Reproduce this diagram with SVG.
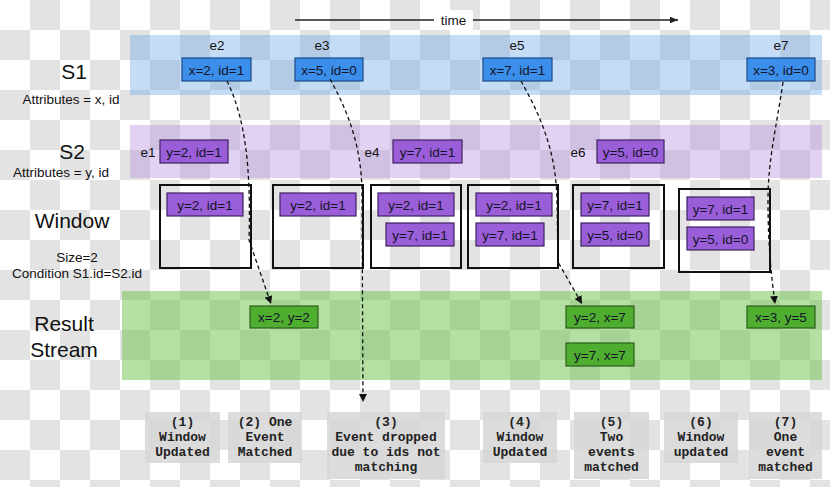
<svg xmlns="http://www.w3.org/2000/svg" width="830" height="487" viewBox="0 0 830 487">
<defs>
<pattern id="chk" width="60" height="60" patternUnits="userSpaceOnUse">
<rect width="60" height="60" fill="#ffffff"/>
<rect x="30" y="0" width="30" height="30" fill="#e3e3e3"/>
<rect x="0" y="30" width="30" height="30" fill="#e3e3e3"/>
</pattern>
<marker id="ah" viewBox="0 0 10 10" refX="10" refY="5" markerWidth="8" markerHeight="8" markerUnits="userSpaceOnUse" orient="auto">
<path d="M0,0 L10,5 L0,10 z" fill="#111"/>
</marker>
<marker id="ta" viewBox="0 0 10 10" refX="10" refY="5" markerWidth="9" markerHeight="8" markerUnits="userSpaceOnUse" orient="auto">
<path d="M0,1 L10,5 L0,9 z" fill="#222"/>
</marker>
</defs>
<style>
.lbl{font-family:"Liberation Sans",Arial,sans-serif;fill:#111;}
.big{font-size:21px;text-anchor:middle;}
.sm{font-size:13.5px;text-anchor:middle;}
.nt{font-family:"Liberation Sans",Arial,sans-serif;font-size:13.5px;fill:#141428;text-anchor:middle;}
.b{fill:#3b8eea;stroke:#1c4a82;stroke-width:1.2;}
.p{fill:#9a5ed8;stroke:#3f2062;stroke-width:1.2;}
.g{fill:#4fae30;stroke:#2b5e1b;stroke-width:1.2;}
.win{fill:none;stroke:#111;stroke-width:2;}
.con{fill:none;stroke:#111;stroke-width:1.3;stroke-dasharray:4 3;marker-end:url(#ah);}
.note{fill:#d6d6d6;fill-opacity:0.85;}
.nx{font-family:"Liberation Mono","Courier New",monospace;font-weight:bold;font-size:13px;fill:#222;text-anchor:middle;}
</style>

<rect width="830" height="487" fill="url(#chk)"/>

<g id="bands">
<rect x="130" y="35" width="692" height="60" fill="#6fa8ec" fill-opacity="0.4"/>
<rect x="130" y="125" width="692" height="53" fill="#b58ee0" fill-opacity="0.4"/>
<rect x="122" y="291" width="700" height="89" fill="#6cc24a" fill-opacity="0.5"/>
</g>

<g id="time-axis">
<line x1="295" y1="20" x2="678" y2="20" stroke="#222" stroke-width="1.3" marker-end="url(#ta)"/>
<rect x="434" y="10" width="39" height="20" fill="#ffffff"/>
<text class="lbl" x="453.5" y="25" font-size="13.5" text-anchor="middle">time</text>
</g>

<g id="row-labels">
<text class="lbl big" x="74" y="79">S1</text>
<text class="lbl sm" x="71" y="104">Attributes = x, id</text>
<text class="lbl big" x="72" y="159">S2</text>
<text class="lbl sm" x="61" y="177">Attributes = y, id</text>
<text class="lbl big" x="72" y="228">Window</text>
<text class="lbl sm" x="77" y="262">Size=2</text>
<text class="lbl sm" x="77" y="278">Condition S1.id=S2.id</text>
<text class="lbl big" x="64" y="331">Result</text>
<text class="lbl big" x="64" y="357">Stream</text>
</g>

<g id="windows">
<rect id="w1" class="win" x="160" y="185" width="91" height="83"/>
<rect id="w2" class="win" x="273" y="185" width="90" height="83"/>
<rect id="w3" class="win" x="371" y="185" width="90" height="83"/>
<rect id="w4" class="win" x="468" y="185" width="90" height="83"/>
<rect id="w5" class="win" x="573" y="185" width="91" height="83"/>
<rect id="w6" class="win" x="679" y="189" width="91" height="83"/>
</g>

<g id="e2"><text class="lbl" x="217" y="50" font-size="13.5" text-anchor="middle">e2</text><rect class="b" x="182" y="58" width="69" height="23"/><text class="nt" x="216.5" y="74.5">x=2, id=1</text></g>
<g id="e3"><text class="lbl" x="322" y="50" font-size="13.5" text-anchor="middle">e3</text><rect class="b" x="295" y="58" width="68" height="23"/><text class="nt" x="329" y="74.5">x=5, id=0</text></g>
<g id="e5"><text class="lbl" x="517" y="50" font-size="13.5" text-anchor="middle">e5</text><rect class="b" x="483" y="58" width="69" height="23"/><text class="nt" x="517.5" y="74.5">x=7, id=1</text></g>
<g id="e7"><text class="lbl" x="781" y="50" font-size="13.5" text-anchor="middle">e7</text><rect class="b" x="747" y="58" width="68" height="23"/><text class="nt" x="781" y="74.5">x=3, id=0</text></g>

<g id="e1"><text class="lbl" x="148" y="157" font-size="13.5" text-anchor="middle">e1</text><rect class="p" x="160" y="140" width="68" height="23"/><text class="nt" x="194" y="156.5">y=2, id=1</text></g>
<g id="e4"><text class="lbl" x="372" y="157" font-size="13.5" text-anchor="middle">e4</text><rect class="p" x="393" y="140" width="69" height="23"/><text class="nt" x="427.5" y="156.5">y=7, id=1</text></g>
<g id="e6"><text class="lbl" x="578" y="157" font-size="13.5" text-anchor="middle">e6</text><rect class="p" x="597" y="140" width="67" height="23"/><text class="nt" x="630.5" y="156.5">y=5, id=0</text></g>

<g id="w1-items"><rect class="p" x="167" y="193" width="76" height="23"/><text class="nt" x="205" y="209.5">y=2, id=1</text></g>
<g id="w2-items"><rect class="p" x="280" y="193" width="76" height="23"/><text class="nt" x="318" y="209.5">y=2, id=1</text></g>
<g id="w3-items"><rect class="p" x="378" y="193" width="76" height="23"/><text class="nt" x="416" y="209.5">y=2, id=1</text><rect class="p" x="386" y="223" width="68" height="23"/><text class="nt" x="420" y="239.5">y=7, id=1</text></g>
<g id="w4-items"><rect class="p" x="476" y="193" width="76" height="23"/><text class="nt" x="514" y="209.5">y=2, id=1</text><rect class="p" x="476" y="223" width="68" height="23"/><text class="nt" x="510" y="239.5">y=7, id=1</text></g>
<g id="w5-items"><rect class="p" x="581" y="193" width="68" height="23"/><text class="nt" x="615" y="209.5">y=7, id=1</text><rect class="p" x="581" y="223" width="68" height="23"/><text class="nt" x="615" y="239.5">y=5, id=0</text></g>
<g id="w6-items"><rect class="p" x="687" y="197" width="67" height="23"/><text class="nt" x="720.5" y="213.5">y=7, id=1</text><rect class="p" x="687" y="227" width="67" height="23"/><text class="nt" x="720.5" y="243.5">y=5, id=0</text></g>

<g id="r1"><rect class="g" x="250" y="306" width="68" height="22"/><text class="nt" x="284" y="322">x=2, y=2</text></g>
<g id="r2"><rect class="g" x="566" y="306" width="68" height="22"/><text class="nt" x="600" y="322">y=2, x=7</text></g>
<g id="r3"><rect class="g" x="566" y="343" width="68" height="23"/><text class="nt" x="600" y="359.5">y=7, x=7</text></g>
<g id="r4"><rect class="g" x="747" y="306" width="68" height="22"/><text class="nt" x="781" y="322">x=3, y=5</text></g>

<g id="connectors">
<path class="con" d="M227,81 C246,120 251,170 249,240 L271,304"/>
<path class="con" d="M330,79 C350,115 362,150 362,195 L363,402"/>
<path class="con" d="M521,81 C540,115 556,150 557,200 L558,262 L582,304"/>
<path class="con" d="M783,82 C776,130 768,160 768,200 C768,250 772,280 775,304"/>
</g>

<g id="n1"><rect class="note" x="145" y="412" width="75" height="51"/><text class="nx" x="182.5" y="426">(1)</text><text class="nx" x="182.5" y="441">Window</text><text class="nx" x="182.5" y="456">Updated</text></g>
<g id="n2"><rect class="note" x="228" y="412" width="74" height="51"/><text class="nx" x="265" y="426">(2) One</text><text class="nx" x="265" y="441">Event</text><text class="nx" x="265" y="456">Matched</text></g>
<g id="n3"><rect class="note" x="327" y="412" width="118" height="67"/><text class="nx" x="386" y="426">(3)</text><text class="nx" x="386" y="441">Event dropped</text><text class="nx" x="386" y="456">due to ids not</text><text class="nx" x="386" y="471">matching</text></g>
<g id="n4"><rect class="note" x="483" y="412" width="74" height="51"/><text class="nx" x="520" y="426">(4)</text><text class="nx" x="520" y="441">Window</text><text class="nx" x="520" y="456">Updated</text></g>
<g id="n5"><rect class="note" x="574" y="412" width="75" height="67"/><text class="nx" x="611.5" y="426">(5)</text><text class="nx" x="611.5" y="441">Two</text><text class="nx" x="611.5" y="456">events</text><text class="nx" x="611.5" y="471">matched</text></g>
<g id="n6"><rect class="note" x="664" y="412" width="74" height="51"/><text class="nx" x="701" y="426">(6)</text><text class="nx" x="701" y="441">Window</text><text class="nx" x="701" y="456">updated</text></g>
<g id="n7"><rect class="note" x="749" y="412" width="73" height="67"/><text class="nx" x="785.5" y="426">(7)</text><text class="nx" x="785.5" y="441">One</text><text class="nx" x="785.5" y="456">event</text><text class="nx" x="785.5" y="471">matched</text></g>
</svg>
